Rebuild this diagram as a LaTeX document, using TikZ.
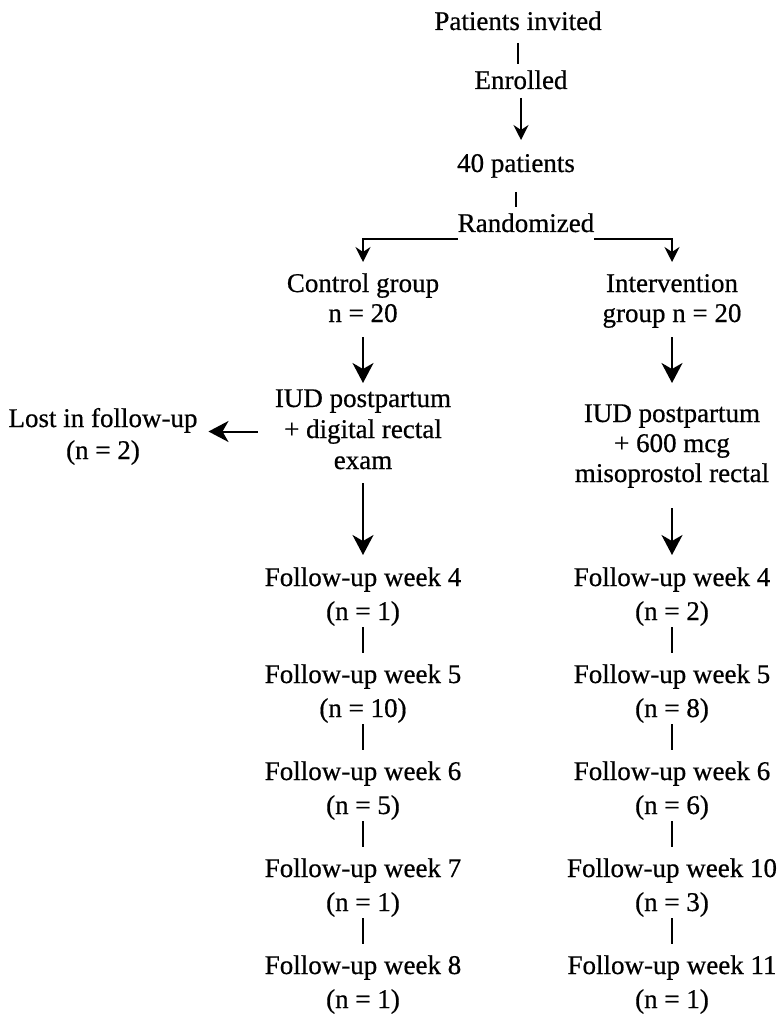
\documentclass[tikz,border=0pt]{standalone}
\usepackage{fontspec}
\setmainfont{Liberation Serif}[FakeBold=0.6]
\usetikzlibrary{arrows.meta}
\newcommand\tS{\rule{0pt}{19pt}}
\newcommand\bS{\rule[-6pt]{0pt}{6pt}}
\begin{document}
\begin{tikzpicture}[x=1pt,y=-1pt,
  txt/.style={font=\fontsize{27}{30}\selectfont, align=center, inner sep=0pt, outer sep=0pt, anchor=north},
  txtb/.style={txt, font=\fontsize{27}{31}\selectfont},
  txtc/.style={txt, font=\fontsize{27}{32}\selectfont},
  fu/.style={txt, font=\fontsize{27}{34}\selectfont},
  conn/.style={line width=2pt, draw=black},
  sarr/.style={conn, -{Stealth[length=15pt,width=15pt,inset=5pt]}},
  barr/.style={conn, -{Stealth[length=20pt,width=21pt,inset=6pt]}},
  flink/.style={conn, shorten <=1pt, shorten >=11pt}
]
\useasboundingbox (0,0) rectangle (777,1016);

% top chain
\node[txt] (inv) at (518,11) {\tS Patients invited\bS};
\node[txt] (enr) at (521,70) {\tS Enrolled\bS};
\node[txt] (p40) at (516,153) {\tS 40 patients\bS};
\node[txt] (rand) at (526,213) {\tS Randomized\bS};

% groups
\node[txt] (ctrl) at (363,273) {\tS Control group\\n = 20\bS};
\node[txt] (intv) at (672,273) {\tS Intervention\\group n = 20\bS};

\node[txtb] (iudc) at (363,388) {\tS IUD postpartum\\+ digital rectal\\exam\bS};
\node[txt] (iudi) at (672,403) {\tS IUD postpartum\\+ 600 mcg\\misoprostol rectal\bS};
\node[txtc] (lost) at (103,408) {\tS Lost in follow-up\\(n = 2)\bS};

% follow-ups control
\node[fu] (lw4) at (363,567) {\tS Follow-up week 4\\(n = 1)\bS};
\node[fu] (lw5) at (363,664) {\tS Follow-up week 5\\(n = 10)\bS};
\node[fu] (lw6) at (363,761) {\tS Follow-up week 6\\(n = 5)\bS};
\node[fu] (lw7) at (363,858) {\tS Follow-up week 7\\(n = 1)\bS};
\node[fu] (lw8) at (363,955) {\tS Follow-up week 8\\(n = 1)\bS};

% follow-ups intervention
\node[fu] (rw4) at (672,567) {\tS Follow-up week 4\\(n = 2)\bS};
\node[fu] (rw5) at (672,664) {\tS Follow-up week 5\\(n = 8)\bS};
\node[fu] (rw6) at (672,761) {\tS Follow-up week 6\\(n = 6)\bS};
\node[fu] (rw7) at (672,858) {\tS Follow-up week 10\\(n = 3)\bS};
\node[fu] (rw8) at (672,955) {\tS Follow-up week 11\\(n = 1)\bS};

% connectors top
\draw[conn, shorten <=7pt, shorten >=6pt] (inv.south) -- (inv.south |- enr.north);
\draw[sarr, shorten <=3pt, shorten >=13pt] (enr.south) -- (enr.south |- p40.north);
\draw[conn, shorten <=14pt, shorten >=6pt] (p40.south) -- (p40.south |- rand.north);
\draw[sarr, shorten >=11pt] ([yshift=-1pt]rand.south west) -| (ctrl.north);
\draw[sarr, shorten >=11pt] ([yshift=-1pt]rand.south east) -| (intv.north);

% group arrows
\draw[barr, shorten <=9pt, shorten >=5pt] (ctrl) -- (iudc);
\draw[barr, shorten <=9pt, shorten >=20pt] (intv) -- (iudi);
\draw[barr, shorten <=8pt, shorten >=12pt] (iudc) -- (lw4);
\draw[barr, shorten <=20pt, shorten >=12pt] (iudi) -- (rw4);
\draw[barr, shorten <=17pt, shorten >=11pt] (iudc.west) -- (iudc.west -| lost.east);

% follow-up links
\draw[flink] (lw4) -- (lw5);
\draw[flink] (lw5) -- (lw6);
\draw[flink] (lw6) -- (lw7);
\draw[flink] (lw7) -- (lw8);
\draw[flink] (rw4) -- (rw5);
\draw[flink] (rw5) -- (rw6);
\draw[flink] (rw6) -- (rw7);
\draw[flink] (rw7) -- (rw8);
\end{tikzpicture}
\end{document}
